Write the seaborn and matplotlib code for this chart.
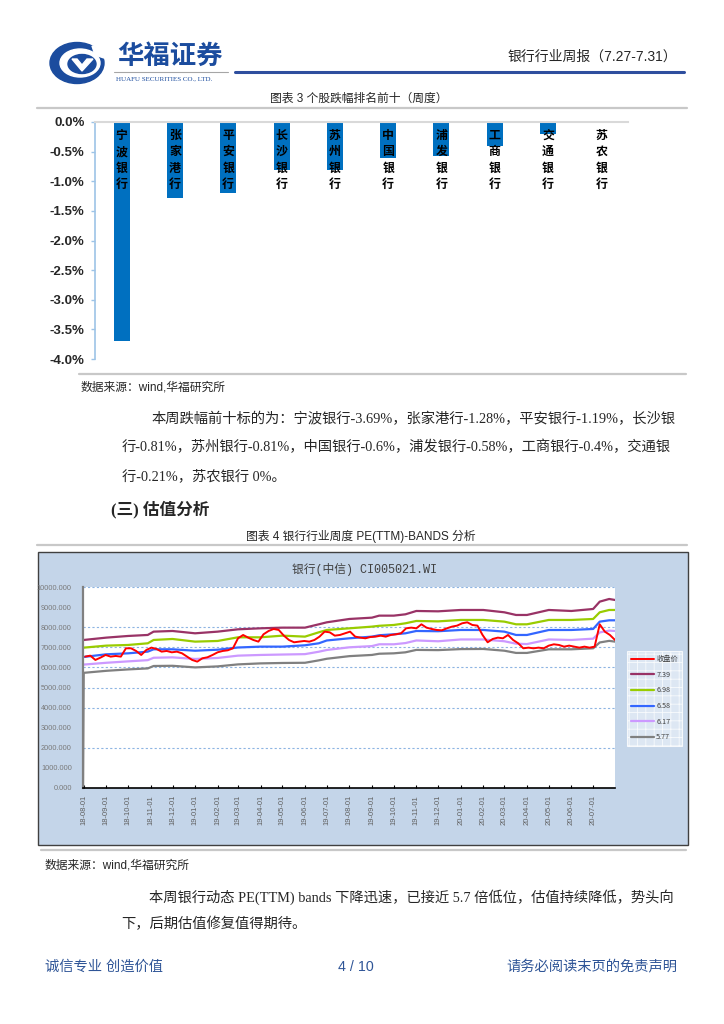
import numpy as np
import pandas as pd
import matplotlib
matplotlib.use("Agg")
import matplotlib.pyplot as plt
import matplotlib.dates as mdates
from matplotlib.ticker import FuncFormatter
from matplotlib.lines import Line2D
from matplotlib.patches import Rectangle, Ellipse, Polygon
import seaborn as sns

# page size in pixels
W, H = 724, 1024

# chart 3: weekly decliners
bank_names = ["宁波银行", "张家港行", "平安银行", "长沙银行", "苏州银行",
              "中国银行", "浦发银行", "工商银行", "交通银行", "苏农银行"]
weekly_chg = [-3.69, -1.28, -1.19, -0.81, -0.81, -0.60, -0.58, -0.40, -0.21, 0.0]

# chart 4: PE(TTM) bands, weekly close of the index
close_start = "2018-08-03"
close_vals = [
    6536, 6585, 6370, 6486, 6619, 6536, 6569, 6536, 6950, 6950, 6818, 6619,
    6867, 6983, 6917, 6784, 6818, 6751, 6784, 6702, 6536, 6370, 6287, 6453,
    6503, 6619, 6751, 6818, 6851, 6950, 7448, 7613, 7481, 7365, 7282, 7647,
    7812, 7912, 7862, 7580, 7365, 7249, 7282, 7315, 7282, 7365, 7531, 7779,
    7746, 7580, 7613, 7696, 7779, 7531, 7481, 7448, 7514, 7531, 7580, 7531,
    7613, 7647, 7696, 7945, 7978, 7945, 8144, 7978, 7912, 7862, 7845,
    7945, 8028, 8078, 8194, 8243, 8111, 8078, 7613, 7249, 7415, 7481, 7448,
    7613, 7365, 7199, 6950, 6983, 6950, 6983, 6950, 7083, 7149, 7116, 7033,
    7083, 7033, 6983, 7033, 6983, 7033, 8144, 7779, 7613, 7365,
]

band_dates = ["2018-08-01", "2018-09-01", "2018-10-01", "2018-10-28", "2018-11-05",
              "2018-12-01", "2019-01-01", "2019-02-01", "2019-03-01", "2019-04-01",
              "2019-05-01", "2019-06-01", "2019-06-20", "2019-07-01", "2019-08-01",
              "2019-09-01", "2019-09-11", "2019-10-01", "2019-10-17", "2019-11-01",
              "2019-12-01", "2020-01-01", "2020-02-01", "2020-03-01", "2020-03-17",
              "2020-04-01", "2020-05-01", "2020-06-01", "2020-07-01", "2020-07-10",
              "2020-07-23", "2020-07-31"]
pe739 = [7365, 7481, 7564, 7614, 7779, 7812, 7696, 7779, 7895, 7945, 7978, 7978,
         8144, 8243, 8409, 8475, 8575, 8575, 8641, 8807, 8790, 8857, 8857, 8741,
         8608, 8608, 8857, 8807, 8907, 9271, 9404, 9354]
pe698 = [6983, 7083, 7116, 7199, 7365, 7414, 7282, 7315, 7497, 7497, 7580, 7531,
         7746, 7862, 7945, 8028, 8070, 8111, 8194, 8310, 8290, 8360, 8360, 8277,
         8144, 8144, 8360, 8360, 8409, 8741, 8857, 8857]
pe658 = [6520, 6652, 6700, 6784, 6900, 6900, 6830, 6880, 6990, 7033, 7033, 7100,
         7199, 7340, 7448, 7531, 7600, 7647, 7696, 7812, 7800, 7862, 7862, 7779,
         7613, 7613, 7860, 7862, 7912, 8277, 8343, 8343]
pe617 = [6140, 6230, 6300, 6360, 6480, 6500, 6420, 6470, 6585, 6619, 6640, 6660,
         6780, 6867, 7000, 7060, 7150, 7150, 7210, 7340, 7300, 7390, 7390, 7300,
         7180, 7160, 7390, 7365, 7430, 7740, 7830, 7812]
# lowest band starts from a zero value on the first day
pe577_dates = ["2018-07-31"] + band_dates
pe577 = [0, 5730, 5830, 5900, 5950, 6070, 6080, 6000, 6050, 6150, 6200, 6220, 6230,
         6350, 6430, 6560, 6620, 6680, 6700, 6750, 6870, 6860, 6910, 6917, 6830,
         6720, 6720, 6900, 6900, 6950, 7240, 7320, 7282]
band_labels = ["7.39", "6.98", "6.58", "6.17", "5.77"]
grid_levels = [10000, 8000, 7000, 6000, 5000, 4000, 2000]

para1 = ["本周跌幅前十标的为：宁波银行-3.69%，张家港行-1.28%，平安银行-1.19%，长沙银",
         "行-0.81%，苏州银行-0.81%，中国银行-0.6%，浦发银行-0.58%，工商银行-0.4%，交通银",
         "行-0.21%，苏农银行 0%。"]
para2 = ["本周银行动态 PE(TTM) bands 下降迅速，已接近 5.7 倍低位，估值持续降低，势头向",
         "下，后期估值修复值得期待。"]

sns.set_theme(style="white")
CJK = ["Noto Sans CJK SC", "DejaVu Sans"]
SANS = ["Liberation Sans", "Noto Sans CJK SC"]
SERIF = ["Liberation Serif", "Noto Sans CJK SC"]
MONO = ["Liberation Mono", "Noto Sans CJK SC"]
plt.rcParams["font.family"] = CJK
plt.rcParams["hatch.linewidth"] = 0.6

BLUE = "#1B4C9E"
FOOT = "#2F5597"


def put(x, y, s, **kw):
    kw.setdefault("va", "center")
    fig.text(x / W, 1 - y / H, s, **kw)


def hline(x0, x1, y, color, lw):
    fig.add_artist(Line2D([x0 / W, x1 / W], [1 - y / H, 1 - y / H], color=color,
                          lw=lw, transform=fig.transFigure))


def ell(cx, cy, w, h, color):
    fig.add_artist(Ellipse((cx / W, 1 - cy / H), w / W, h / H, color=color,
                           transform=fig.transFigure))


fig = plt.figure(figsize=(W / 100, H / 100), dpi=100)
fig.patch.set_facecolor("white")

# ---- header ----
ell(77, 63, 54, 41, BLUE)
ell(80, 63, 40, 28, "white")
ell(82, 64, 28, 19, BLUE)
fig.add_artist(Polygon([(x / W, 1 - y / H) for x, y in
                        [(72, 59), (82, 71), (93, 59), (87, 59), (82, 65), (77, 59)]],
                       closed=True, color="white", transform=fig.transFigure))
fig.add_artist(Polygon([(x / W, 1 - y / H) for x, y in
                        [(92, 46), (106, 50), (104, 58), (95, 55)]],
                       closed=True, color="white", transform=fig.transFigure))
put(117, 56, "华福证券", fontsize=19, fontweight="bold", color=BLUE, family=CJK)
hline(114, 228, 71.5, "#A6A6A6", 0.8)
put(116, 78.5, "HUAFU SECURITIES CO., LTD.", fontsize=5, color=BLUE,
    family=["Liberation Serif"])
hline(235, 684, 71.7, "#2E4E9E", 2.2)
put(677, 57, "银行行业周报（7.27-7.31）", ha="right", fontsize=10, family=SANS)

# ---- chart 3 ----
put(359, 99, "图表 3 个股跌幅排名前十（周度）", ha="center", fontsize=8.5, family=SANS)
hline(37, 687, 108, "#C8C8C8", 1.6)

ax1 = fig.add_axes([95 / W, 1 - 359 / H, (628 - 95) / W, (359 - 122) / H])
sns.barplot(x=bank_names, y=weekly_chg, color="#0070C0", saturation=1,
            width=0.3, linewidth=0, ax=ax1)
ax1.set_xlim(-0.5, len(bank_names) - 0.5)
ax1.set_ylim(-4, 0)
ax1.set_xlabel("")
ax1.set_ylabel("")
ax1.set_xticks([])
ax1.set_yticks(np.arange(-4, 0.01, 0.5))
ax1.yaxis.set_major_formatter(FuncFormatter(
    lambda v, p: "0.0%" if abs(v) < 1e-9 else f"{v:.1f}%"))
ax1.tick_params(axis="y", left=True, length=3, width=1, color="#9DC3E6",
                pad=4.5, labelsize=9.5)
for lab in ax1.get_yticklabels():
    lab.set_fontweight("bold")
    lab.set_family(SANS)
for side in ["right", "bottom"]:
    ax1.spines[side].set_visible(False)
ax1.spines["left"].set_color("#9DC3E6")
ax1.spines["left"].set_linewidth(1.2)
ax1.spines["top"].set_color("#D9D9D9")
ax1.spines["top"].set_linewidth(1.5)
for i, name in enumerate(bank_names):
    ax1.text(i, -0.11, "\n".join(name), ha="center", va="top", fontsize=8.6,
             fontweight="bold", linespacing=1.36, family=CJK, color="black")

hline(79, 686, 374, "#C8C8C8", 1.6)
put(81, 388, "数据来源：wind,华福研究所", fontsize=8.5, family=SANS)
put(152, 419, para1[0], fontsize=10.3, family=SERIF)
put(122, 447, para1[1], fontsize=10.3, family=SERIF)
put(122, 476, para1[2], fontsize=10.3, family=SERIF)
put(111, 510, "(三) 估值分析", fontsize=12, fontweight="bold", family=SERIF)

# ---- chart 4 ----
put(361, 536, "图表 4 银行行业周度 PE(TTM)-BANDS 分析", ha="center", fontsize=8.5,
    family=SANS)
hline(37, 687, 545, "#C8C8C8", 1.6)
fig.add_artist(Rectangle((38 / W, 1 - 845 / H), (688 - 38) / W, (845 - 552) / H,
                         facecolor="#C4D5E9", edgecolor="#404040", lw=1,
                         transform=fig.transFigure, zorder=-5))
put(364, 569, "银行(中信) CI005021.WI", ha="center", fontsize=8.5, family=MONO,
    color="#404040")

ax2 = fig.add_axes([83 / W, 1 - 788 / H, (615 - 83) / W, (788 - 587) / H])
ax2.set_facecolor("white")
close_dates = pd.date_range(close_start, periods=len(close_vals), freq="7D")
bd = pd.to_datetime(band_dates)
band_series = [(bd, pe739, "#993366", band_labels[0]),
               (bd, pe698, "#99CC00", band_labels[1]),
               (bd, pe658, "#3366FF", band_labels[2]),
               (bd, pe617, "#CC99FF", band_labels[3]),
               (pd.to_datetime(pe577_dates), pe577, "#808080", band_labels[4])]
for lv in grid_levels:
    ax2.axhline(lv, color="#8DB4E2", lw=0.8, ls=(0, (2, 2)), zorder=0)
for dts, vals, col, lab in band_series:
    sns.lineplot(x=dts, y=vals, color=col, lw=1.6, label=lab, ax=ax2)
sns.lineplot(x=close_dates, y=close_vals, color="#FF0000", lw=1.4, label="收盘价", ax=ax2)

ax2.set_ylim(0, 10000)
ax2.set_yticks(np.arange(0, 10001, 1000))
ax2.yaxis.set_major_formatter(FuncFormatter(lambda v, p: f"{v:.3f}"))
ax2.xaxis.set_major_locator(mdates.MonthLocator(bymonthday=1))
ax2.xaxis.set_major_formatter(mdates.DateFormatter("%y-%m-%d"))
ax2.set_xlim(pd.Timestamp("2018-07-31"), pd.Timestamp("2020-07-31"))
ax2.tick_params(axis="y", left=False, pad=2, labelsize=5.3, labelcolor="#7A7A7A")
ax2.tick_params(axis="x", bottom=True, direction="in", length=2.5, width=0.8,
                color="black", pad=5, labelsize=5.5, labelcolor="#606060",
                labelrotation=90)
for lab in ax2.get_xticklabels() + ax2.get_yticklabels():
    lab.set_family(SANS)
ax2.set_xlabel("")
ax2.set_ylabel("")
for side in ["top", "right"]:
    ax2.spines[side].set_visible(False)
ax2.spines["left"].set_color("#808080")
ax2.spines["left"].set_linewidth(1.6)
ax2.spines["bottom"].set_color("black")
ax2.spines["bottom"].set_linewidth(1.2)

handles, labels = ax2.get_legend_handles_labels()
order = [labels.index("收盘价")] + [labels.index(b) for b in band_labels]
leg = ax2.legend([handles[i] for i in order], [labels[i] for i in order],
                 loc="upper left", bbox_to_anchor=(627 / W, 1 - 651 / H),
                 bbox_transform=fig.transFigure, handlelength=3.2,
                 handletextpad=0.25, labelspacing=1.05, borderpad=0.6,
                 borderaxespad=0, frameon=True, fancybox=False,
                 prop={"family": CJK, "size": 5.2})
frame = leg.get_frame()
frame.set_facecolor("#E4ECF6")
frame.set_edgecolor("#FFFFFF")
frame.set_hatch("++")
frame.set_linewidth(0.8)
for t in leg.get_texts():
    t.set_color("#404040")

hline(41, 686, 850, "#C8C8C8", 1.6)
put(45, 866, "数据来源：wind,华福研究所", fontsize=8.5, family=SANS)
put(149, 897, para2[0], fontsize=10.3, family=SERIF)
put(121, 924, para2[1], fontsize=10.3, family=SERIF)

# ---- footer ----
put(45, 967, "诚信专业 创造价值", fontsize=10.3, color=FOOT, family=SANS)
put(356, 967, "4 / 10", ha="center", fontsize=10.3, color=FOOT, family=SANS)
put(677, 967, "请务必阅读末页的免责声明", ha="right", fontsize=10.3, color=FOOT,
    family=SANS)

fig.savefig("out.png", dpi=100)
